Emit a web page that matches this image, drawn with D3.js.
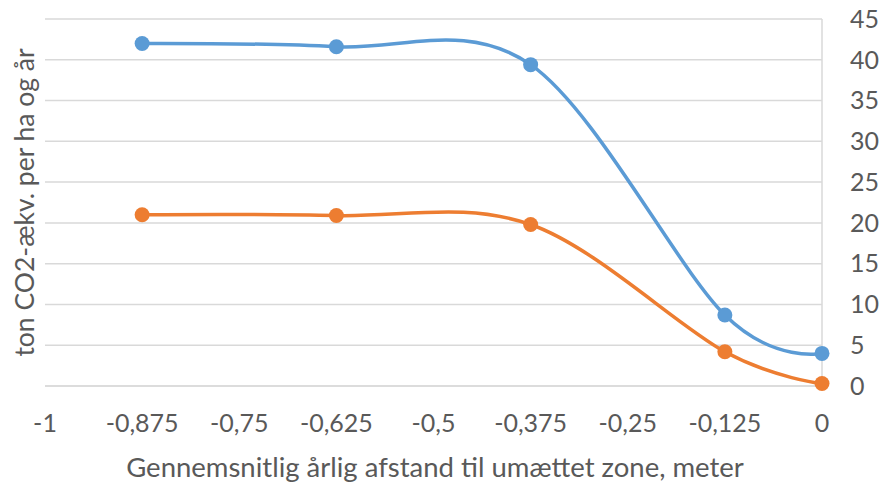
<!DOCTYPE html>
<html>
<head>
<meta charset="utf-8">
<script src="https://cdn.jsdelivr.net/npm/d3@7"></script>
<style>
  html, body { margin: 0; padding: 0; background: #ffffff; }
  svg { display: block; }
  text { font-family: Lato, "Open Sans", sans-serif; fill: #595959; }
</style>
</head>
<body>
<svg id="chart" width="889" height="483"></svg>
<script>
// Data
const xValues = [-0.875, -0.625, -0.375, -0.125, 0];
const seriesBlue = [42.0, 41.6, 39.4, 8.7, 4.0];
const seriesOrange = [21.0, 20.9, 19.8, 4.2, 0.3];
const xTicks = [-1, -0.875, -0.75, -0.625, -0.5, -0.375, -0.25, -0.125, 0];
const yTicks = [0, 5, 10, 15, 20, 25, 30, 35, 40, 45];
const xTitle = "Gennemsnitlig årlig afstand til umættet zone, meter";
const yTitle = "ton CO2-ækv. per ha og år";

const svg = d3.select("#chart");
const mLeft = 45, mRight = 822, mTop = 19, mBottom = 386;

const x = d3.scaleLinear().domain([-1, 0]).range([mLeft, mRight]);
const y = d3.scaleLinear().domain([0, 45]).range([mBottom, mTop]);

const fmt = v => String(v).replace(".", ",");

// Horizontal gridlines
svg.append("g").selectAll("line").data(yTicks).join("line")
  .attr("x1", mLeft).attr("x2", mRight)
  .attr("y1", d => y(d)).attr("y2", d => y(d))
  .attr("stroke", d => d === 0 ? "#d0d0d0" : "#d9d9d9")
  .attr("stroke-width", 1.5);

// Vertical axis line at x = 0
svg.append("line")
  .attr("x1", x(0)).attr("x2", x(0))
  .attr("y1", y(45)).attr("y2", y(0))
  .attr("stroke", "#d9d9d9").attr("stroke-width", 1.5);

// Y tick labels (right side)
svg.append("g").selectAll("text").data(yTicks).join("text")
  .attr("x", 850).attr("y", d => y(d))
  .attr("dy", "0.35em")
  .attr("font-size", 25)
  .text(d => d);

// X tick labels
svg.append("g").selectAll("text").data(xTicks).join("text")
  .attr("x", d => x(d)).attr("y", 432)
  .attr("text-anchor", "middle")
  .attr("font-size", 25)
  .text(d => fmt(d));

// Axis titles
svg.append("text")
  .attr("x", 435).attr("y", 477)
  .attr("text-anchor", "middle")
  .attr("font-size", 27.5)
  .text(xTitle);

svg.append("text")
  .attr("transform", `translate(34,${(mTop + mBottom) / 2}) rotate(-90)`)
  .attr("text-anchor", "middle")
  .attr("font-size", 26.5)
  .text(yTitle);

// Series
const line = d3.line()
  .x(d => x(d[0])).y(d => y(d[1]))
  .curve(d3.curveCardinal.tension(0));

const series = [
  { values: seriesOrange, color: "#ed7d31" },
  { values: seriesBlue, color: "#5b9bd5" }
];

series.forEach(s => {
  const pts = xValues.map((xv, i) => [xv, s.values[i]]);
  svg.append("path")
    .attr("d", line(pts))
    .attr("fill", "none")
    .attr("stroke", s.color)
    .attr("stroke-width", 3.5)
    .attr("stroke-linecap", "round");
  svg.append("g").selectAll("circle").data(pts).join("circle")
    .attr("cx", d => x(d[0])).attr("cy", d => y(d[1]))
    .attr("r", 7.5)
    .attr("fill", s.color);
});
</script>
</body>
</html>
